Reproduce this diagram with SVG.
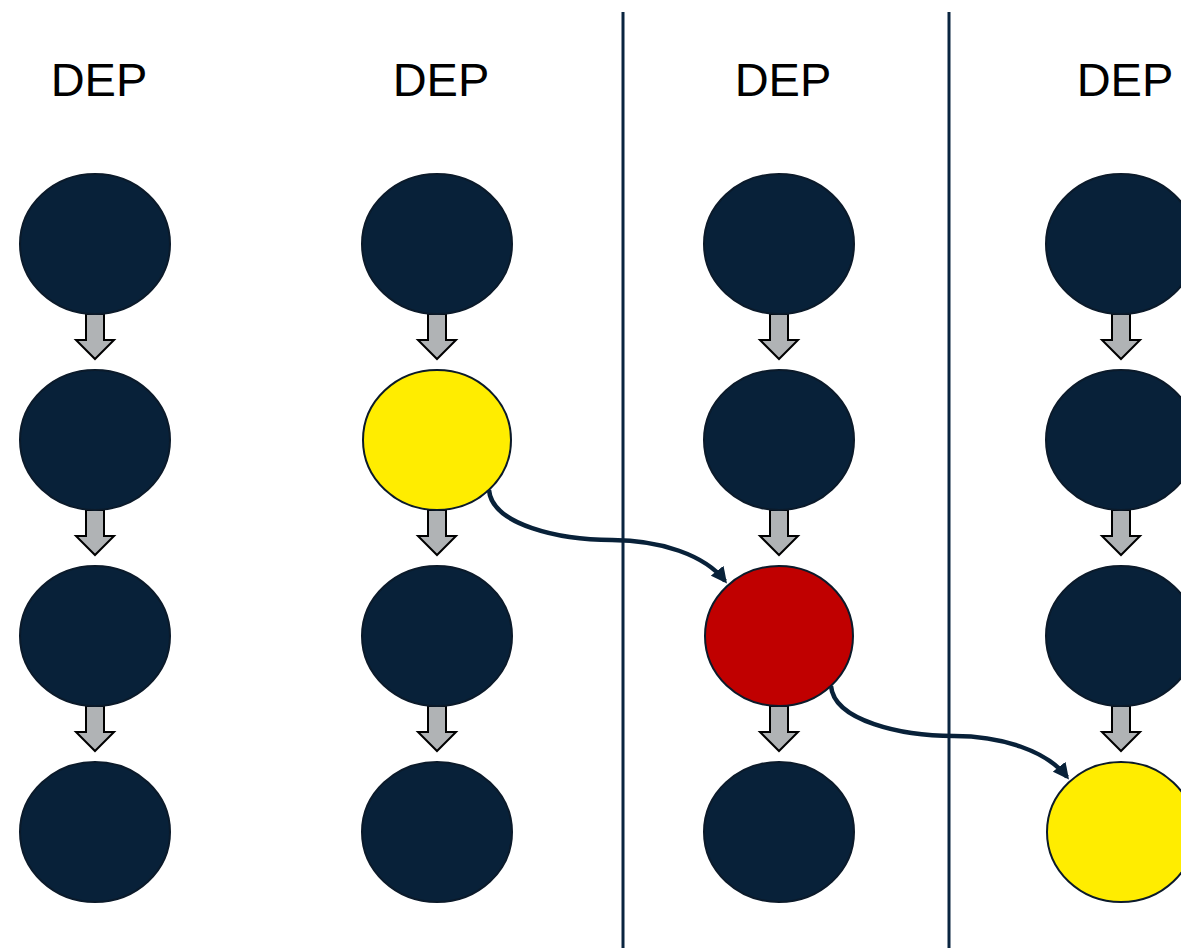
<svg xmlns="http://www.w3.org/2000/svg" width="1181" height="948" viewBox="0 0 1181 948">
<style>
.lbl{font-family:"Liberation Sans",Arial,sans-serif;font-size:47px;fill:#000;text-anchor:middle}
.n{fill:#082139;stroke:#0b1a2a;stroke-width:2}
.y{fill:#ffed00;stroke:#0b1a2a;stroke-width:2}
.r{fill:#c00000;stroke:#0b1a2a;stroke-width:2}
.ba{fill:#b0b3b5;stroke:#000;stroke-width:2;stroke-linejoin:miter}
.sep{stroke:#0a2540;stroke-width:3}
.con{fill:none;stroke:#082139;stroke-width:4.5}
</style>
<defs>
<marker id="ah" viewBox="0 0 10 10" refX="8" refY="5" markerWidth="3.6" markerHeight="3.6" orient="auto" markerUnits="strokeWidth">
<path d="M0,0 L10,5 L0,10 Z" fill="#082139"/>
</marker>
<path id="blk" d="M-9,0 L9,0 L9,26 L19,26 L0,45 L-19,26 L-9,26 Z"/>
</defs>
<g id="separators">
<line class="sep" x1="623" y1="12" x2="623" y2="948"/>
<line class="sep" x1="949" y1="12" x2="949" y2="948"/>
</g>
<g id="labels">
<text class="lbl" x="99" y="96">DEP</text>
<text class="lbl" x="441" y="96">DEP</text>
<text class="lbl" x="783" y="96">DEP</text>
<text class="lbl" x="1125" y="96">DEP</text>
</g>
<g id="flow-arrows">
<use href="#blk" class="ba" x="95" y="314"/>
<use href="#blk" class="ba" x="95" y="510"/>
<use href="#blk" class="ba" x="95" y="706"/>
<use href="#blk" class="ba" x="437" y="314"/>
<use href="#blk" class="ba" x="437" y="510"/>
<use href="#blk" class="ba" x="437" y="706"/>
<use href="#blk" class="ba" x="779" y="314"/>
<use href="#blk" class="ba" x="779" y="510"/>
<use href="#blk" class="ba" x="779" y="706"/>
<use href="#blk" class="ba" x="1121" y="314"/>
<use href="#blk" class="ba" x="1121" y="510"/>
<use href="#blk" class="ba" x="1121" y="706"/>
</g>
<g id="col1">
<g id="c1r1"><ellipse class="n" cx="95" cy="244" rx="75" ry="70"/></g>
<g id="c1r2"><ellipse class="n" cx="95" cy="440" rx="75" ry="70"/></g>
<g id="c1r3"><ellipse class="n" cx="95" cy="636" rx="75" ry="70"/></g>
<g id="c1r4"><ellipse class="n" cx="95" cy="832" rx="75" ry="70"/></g>
</g>
<g id="col2">
<g id="c2r1"><ellipse class="n" cx="437" cy="244" rx="75" ry="70"/></g>
<g id="c2r2"><ellipse class="y" cx="437" cy="440" rx="74" ry="70"/></g>
<g id="c2r3"><ellipse class="n" cx="437" cy="636" rx="75" ry="70"/></g>
<g id="c2r4"><ellipse class="n" cx="437" cy="832" rx="75" ry="70"/></g>
</g>
<g id="col3">
<g id="c3r1"><ellipse class="n" cx="779" cy="244" rx="75" ry="70"/></g>
<g id="c3r2"><ellipse class="n" cx="779" cy="440" rx="75" ry="70"/></g>
<g id="c3r3"><ellipse class="r" cx="779" cy="636" rx="74" ry="70"/></g>
<g id="c3r4"><ellipse class="n" cx="779" cy="832" rx="75" ry="70"/></g>
</g>
<g id="col4">
<g id="c4r1"><ellipse class="n" cx="1121" cy="244" rx="75" ry="70"/></g>
<g id="c4r2"><ellipse class="n" cx="1121" cy="440" rx="75" ry="70"/></g>
<g id="c4r3"><ellipse class="n" cx="1121" cy="636" rx="75" ry="70"/></g>
<g id="c4r4"><ellipse class="y" cx="1121" cy="832" rx="74" ry="70"/></g>
</g>
<g id="connectors">
<path class="con" marker-end="url(#ah)" d="M489,490 C492,525 560,540 612,540 C660,540 705,555 725,581"/>
<path class="con" marker-end="url(#ah)" d="M831,686 C834,721 902,736 954,736 C1002,736 1047,751 1067,777"/>
</g>
</svg>
